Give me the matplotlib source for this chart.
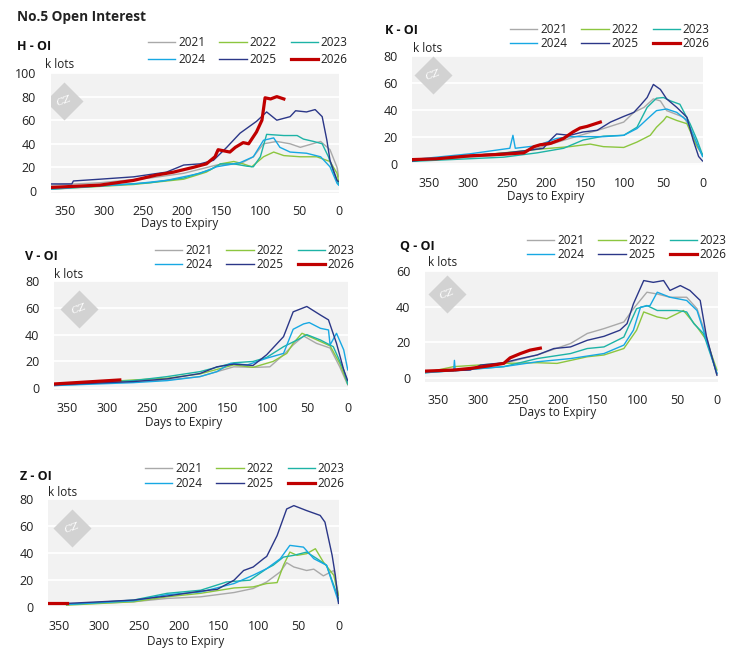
import matplotlib
matplotlib.use('Agg')
import matplotlib.pyplot as plt

plt.rcParams['font.family'] = ['Open Sans', 'DejaVu Sans']

W, H = 735, 663

years = ['2021', '2022', '2023', '2024', '2025', '2026']
colors = ['#a9a9a9', '#8cc63f', '#1db3a6', '#17a8e3', '#2b3788', '#c00000']
widths = [1.0, 1.0, 1.0, 1.0, 1.0, 2.3]

# (days to expiry, k lots)
H_2021 = [(368, 5), (305, 7), (241, 11), (198, 15), (156, 22), (126, 23), (109, 29), (96, 40), (79, 42), (62, 40),
          (49, 37), (36, 39.5), (23, 42), (11, 35), (2, 20), (0, 12)]
H_2022 = [(368, 1.5), (262, 5.5), (198, 10), (169, 16), (151, 23), (134, 25), (122, 23), (111, 20.5), (96, 29),
          (83, 33), (70, 30), (49, 29), (28, 29), (11, 25), (2, 15), (0, 8)]
H_2023 = [(368, 2), (305, 4.5), (241, 7), (198, 11), (164, 18), (151, 23), (134, 23), (117, 21), (109, 20.5),
          (100, 29), (92, 48), (70, 47), (53, 47), (45, 44), (32, 42), (21, 40), (13, 29), (6, 15), (0, 6)]
H_2024 = [(368, 1.5), (262, 6), (220, 9), (177, 15), (156, 20.5), (126, 24), (109, 29), (96, 43), (83, 45),
          (75, 37), (62, 33), (41, 32), (23, 29), (11, 20.5), (2, 6.5), (0, 5)]
H_2025 = [(368, 6), (341, 6), (339, 8.5), (305, 10), (262, 12), (220, 16), (198, 22), (177, 23), (160, 26),
          (143, 37), (126, 49), (105, 59), (92, 67), (79, 60), (62, 63), (55, 68), (41, 67), (30, 69), (21, 63),
          (15, 43), (11, 26), (2, 9), (0, 8)]
H_2026 = [(368, 3), (305, 5), (262, 9), (233, 13.5), (211, 16), (186, 20), (169, 23), (158, 29), (154, 35),
          (139, 33), (132, 37), (122, 41), (115, 40), (105, 50), (98, 60), (94, 79), (87, 78), (79, 80), (70, 78)]

K_2021 = [(372, 2), (255, 6.5), (212, 11.4), (170, 18.7), (127, 26), (101, 30.8), (88, 38), (75, 41.7), (63, 48),
          (54, 46.5), (46, 39.3), (24, 34.4), (16, 27), (7, 12.6), (0, 6.5)]
K_2022 = [(372, 2), (255, 8), (204, 11), (170, 12.6), (144, 14.5), (127, 12.6), (101, 12), (84, 16), (67, 21),
          (59, 27), (50, 32), (46, 35), (33, 32), (20, 29.6), (9, 15), (0, 6.5)]
K_2023 = [(372, 1.7), (255, 4.8), (212, 8), (178, 11.4), (153, 17.5), (127, 20.4), (101, 21), (84, 27),
          (71, 41.7), (59, 48.5), (50, 49), (41, 46.5), (29, 44), (16, 29.6), (7, 17.5), (0, 6.5)]
K_2024 = [(372, 3), (298, 7.3), (247, 11.4), (243, 21), (240, 11.4), (212, 13.3), (187, 18.7), (170, 20),
          (148, 20), (127, 20), (101, 21), (84, 26), (71, 33), (59, 39.3), (46, 40.5), (33, 38), (20, 32),
          (9, 17.5), (0, 5.3)]
K_2025 = [(372, 2), (298, 6), (255, 7.8), (221, 10), (204, 11.4), (195, 17.5), (187, 22), (170, 21), (153, 23.5),
          (135, 24.7), (118, 30.8), (101, 35), (88, 38), (80, 43), (71, 49), (63, 58.7), (54, 55), (46, 48),
          (33, 41.7), (20, 34.4), (12, 17.5), (5, 5.3), (0, 2)]
K_2026 = [(372, 3), (341, 3.6), (298, 5.8), (255, 7), (229, 8), (216, 12.6), (208, 14), (195, 15), (178, 18.7),
          (166, 23.5), (157, 26.4), (148, 27.6), (131, 30.8)]

V_2021 = [(366, 2), (267, 5), (225, 6.2), (184, 8.7), (142, 16), (114, 15.6), (97, 16), (80, 25), (68, 32.3),
          (55, 39), (39, 33.5), (22, 30), (10, 16), (0, 2.5)]
V_2022 = [(366, 2.5), (267, 6.2), (225, 7.5), (184, 10.7), (142, 17.4), (118, 15.6), (93, 20), (76, 26),
          (68, 33.5), (57, 41), (43, 37.3), (22, 31.6), (10, 18.6), (0, 3.2)]
V_2023 = [(366, 2.5), (267, 5.7), (225, 8.7), (184, 12.4), (142, 19), (118, 20), (101, 23), (80, 31), (63, 36),
          (51, 40), (34, 36), (18, 31), (5, 13.7), (0, 3.2)]
V_2024 = [(366, 2), (267, 4.2), (225, 5.7), (184, 8.7), (163, 12.4), (146, 18.6), (125, 17.4), (101, 22.4),
          (80, 26), (68, 44), (55, 48), (48, 49), (34, 44.7), (24, 43.5), (22, 32.3), (14, 41), (5, 28.6),
          (0, 13.7)]
V_2025 = [(366, 2.5), (267, 5), (225, 7), (184, 11), (163, 16), (142, 18), (118, 17), (101, 25), (80, 38.5),
          (68, 57), (51, 61), (34, 54.6), (24, 51), (14, 33.5), (5, 13.7), (0, 5.7)]
V_2026 = [(366, 3.2), (284, 6.2)]

Q_2021 = [(367, 4), (310, 5), (268, 8.3), (226, 13), (184, 19.4), (163, 25), (142, 27.7), (117, 31.4),
          (105, 38.8), (88, 48), (75, 47), (59, 45.2), (38, 45.2), (25, 38.8), (13, 23), (0, 1.8)]
Q_2022 = [(367, 3.1), (331, 6.5), (268, 8.3), (226, 8.7), (201, 8.3), (163, 12), (142, 13), (117, 16.6),
          (101, 26.8), (92, 37), (75, 34.2), (63, 33.2), (42, 37.8), (25, 28.6), (13, 21.2), (0, 4.6)]
Q_2023 = [(367, 3.1), (268, 6.5), (226, 11), (184, 13.8), (163, 16.6), (142, 17.5), (117, 23), (101, 38.8),
          (88, 40.6), (75, 37.8), (50, 37.8), (38, 37), (29, 30.5), (17, 25), (0, 2.8)]
Q_2024 = [(367, 3.1), (331, 4.2), (330, 10), (329, 4.2), (268, 6.5), (226, 9.2), (184, 11), (142, 13.8),
          (117, 18.5), (105, 26.8), (96, 39.7), (84, 40.6), (75, 48), (59, 45.2), (38, 43.4), (25, 37.8),
          (17, 26.8), (0, 2.8)]
Q_2025 = [(367, 3.7), (310, 4.6), (297, 7.4), (268, 8.7), (247, 11), (226, 13), (205, 16.6), (184, 17.5),
          (163, 21.2), (142, 23.4), (122, 26.8), (113, 30.5), (105, 41.5), (92, 54.5), (80, 53.5), (67, 54.5),
          (59, 49), (46, 51.7), (34, 49), (21, 43.4), (13, 23), (0, 1.8)]
Q_2026 = [(367, 4), (331, 4.6), (310, 5.5), (289, 6.8), (268, 8.3), (260, 11.4), (247, 13.8), (235, 15.7),
          (222, 16.8)]

Z_2021 = [(341, 1.7), (257, 3.7), (215, 6.2), (173, 7.4), (131, 10.6), (107, 13.6), (90, 18.5), (73, 26),
          (65, 32.8), (56, 29.6), (40, 27), (31, 28), (19, 23), (6, 27), (0, 8.6)]
Z_2022 = [(341, 1.2), (257, 3.7), (215, 7.4), (173, 10), (131, 14), (107, 14.8), (90, 17.3), (77, 18),
          (69, 30.9), (61, 40.7), (52, 38.3), (40, 39.5), (29, 43.2), (19, 33.3), (6, 23.5), (0, 8.6)]
Z_2023 = [(341, 1.7), (257, 5), (215, 10), (173, 12.3), (140, 18.5), (111, 19.8), (90, 28.4), (82, 30.9),
          (69, 37), (56, 38.3), (40, 40.7), (27, 35.8), (15, 30.9), (0, 6.2)]
Z_2024 = [(341, 1.7), (257, 4.4), (215, 9), (173, 11), (131, 17.3), (107, 23.5), (90, 28.4), (73, 35.8),
          (61, 45.7), (44, 44.4), (31, 35.8), (15, 30.9), (0, 3.7)]
Z_2025 = [(341, 2.5), (299, 3.7), (257, 5), (215, 8), (173, 11.6), (152, 13), (131, 19.8), (119, 27), (107, 29.6),
          (94, 35.8), (90, 37.5), (77, 53), (65, 72.8), (56, 75.3), (40, 71.6), (23, 68), (17, 63), (8, 38.3),
          (4, 23.5), (0, 2.5)]
Z_2026 = [(364, 2.5), (341, 2.5)]

# panel layout in pixels: rect (left, top, right, bottom), xlim, ylim, title pos, unit pos,
# legend (first line x, first row y, row gap), xlabel centre, logo offset
panels = [
    ('H - OI', [H_2021, H_2022, H_2023, H_2024, H_2025, H_2026], (50.7, 73, 339, 193), (368, -0.5), (-1.7, 100),
     (17, 47), (45, 65), (148, 43.8, 18), (180, 223), (13.6, 27.7)),
    ('K - OI', [K_2021, K_2022, K_2023, K_2024, K_2025, K_2026], (412.3, 55.7, 703.3, 165), (372, -1), (-1, 80),
     (385, 30), (413, 49), (510, 30.7, 15.5), (545.7, 196.7), (21, 19.6)),
    ('V - OI', [V_2021, V_2022, V_2023, V_2024, V_2025, V_2026], (54, 281, 348.3, 390), (366, -0.7), (-1.3, 80),
     (25, 256), (54, 274), (155, 251.7, 15), (184, 422.7), (25, 27.7)),
    ('Q - OI', [Q_2021, Q_2022, Q_2023, Q_2024, Q_2025, Q_2026], (425, 270.7, 717.7, 381.7), (367, -1), (-1.9, 60),
     (400, 247), (428, 263), (527, 241.7, 15.5), (558, 412.7), (21.7, 23.6)),
    ('Z - OI', [Z_2021, Z_2022, Z_2023, Z_2024, Z_2025, Z_2026], (48.3, 499.3, 339.3, 607.7), (364, -1), (-0.7, 80),
     (20, 476), (48, 492), (145, 470, 15.5), (185.7, 641.7), (24, 29)),
]

fig = plt.figure(figsize=(W / 100, H / 100), dpi=100)
fig.text(17 / W, 1 - 16.5 / H, 'No.5 Open Interest', fontsize=9.8, fontweight='bold', color='#222222',
         va='center', ha='left')

LEG_FS = 8.5
for title, series, rect, xlim, ylim, tpos, upos, lpos, xlpos, logo in panels:
    l, t, r, b = rect
    ax = fig.add_axes([l / W, 1 - b / H, (r - l) / W, (b - t) / H])
    ax.set_facecolor('#f2f2f2')
    lines = []
    for data, yr, c, lw in zip(series, years, colors, widths):
        d = [p[0] for p in data]
        v = [p[1] for p in data]
        ln, = ax.plot(d, v, color=c, lw=lw, label=yr, solid_joinstyle='round')
        lines.append(ln)
    ax.set_xlim(*xlim)
    ax.set_ylim(*ylim)
    ax.set_xticks([350, 300, 250, 200, 150, 100, 50, 0])
    ax.set_yticks(range(0, int(ylim[1]) + 1, 20))
    ax.grid(axis='y', color='white', lw=1.3)
    ax.set_axisbelow(True)
    for s in ax.spines.values():
        s.set_visible(False)
    ax.tick_params(length=0, labelsize=9, colors='#222222')
    ax.tick_params(axis='y', pad=10.5)
    ax.tick_params(axis='x', pad=8.5)
    ax.set_xlabel('Days to Expiry', fontsize=8.5, color='#222222')
    ax.xaxis.label.set_va('center')
    ax.xaxis.set_label_coords((xlpos[0] - l) / (r - l), -(xlpos[1] - b) / (b - t))

    fig.text(tpos[0] / W, 1 - tpos[1] / H, title, fontsize=9, fontweight='bold', color='#111111',
             va='center', ha='left')
    fig.text(upos[0] / W, 1 - upos[1] / H, 'k lots', fontsize=8.5, color='#222222', va='center', ha='left')

    # watermark
    lx = logo[0] / (r - l)
    ly = 1 - logo[1] / (b - t)
    ax.plot([lx], [ly], marker='D', ms=19, color='#d2d2d2', mec='none', transform=ax.transAxes, zorder=1)
    ax.text(lx, ly, 'CZ', transform=ax.transAxes, fontsize=7.5, color='white', ha='center', va='center',
            family='DejaVu Serif', style='italic', zorder=1, rotation=20)

    # legend: row-major order, 3 columns
    order = [0, 3, 1, 4, 2, 5]
    row_h = LEG_FS * 100 / 72
    spacing = (lpos[2] - row_h * 1.17) / row_h
    leg = fig.legend([lines[i] for i in order], [years[i] for i in order], ncol=3, frameon=False,
                     loc='upper left', bbox_to_anchor=(lpos[0] / W, 1 - (lpos[1] - 8) / H),
                     borderpad=0, borderaxespad=0, fontsize=LEG_FS, handlelength=2.3, handletextpad=0.25,
                     columnspacing=1.2, labelspacing=spacing)
    for txt in leg.get_texts():
        txt.set_color('#222222')

fig.savefig('out.png', dpi=100)
